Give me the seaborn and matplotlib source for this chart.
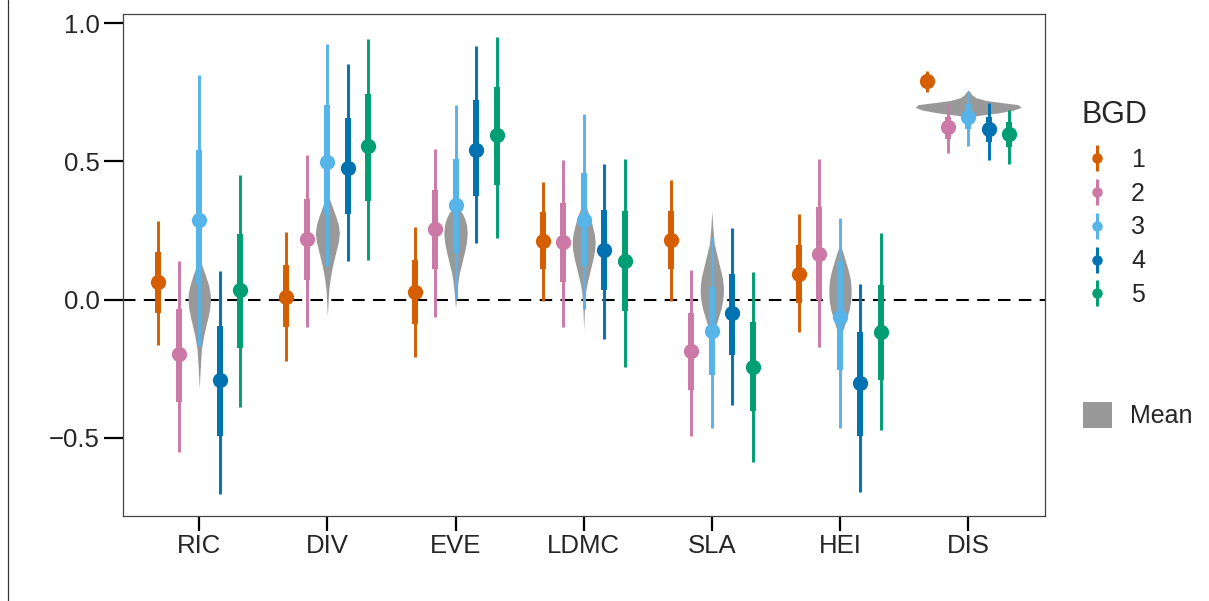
import numpy as np
import pandas as pd
import matplotlib
matplotlib.use("Agg")
import matplotlib.pyplot as plt
import seaborn as sns
from matplotlib.lines import Line2D
from matplotlib.patches import Patch
from matplotlib.legend_handler import HandlerTuple

# ---------------- data ----------------
traits = ["RIC", "DIV", "EVE", "LDMC", "SLA", "HEI", "DIS"]
bgd_levels = ["1", "2", "3", "4", "5"]

# rows = BGD 1..5, columns = traits
estimate = [
    [0.063, 0.011, 0.029, 0.211, 0.216, 0.091, 0.790],
    [-0.197, 0.220, 0.256, 0.208, -0.185, 0.166, 0.624],
    [0.286, 0.498, 0.341, 0.286, -0.112, -0.062, 0.661],
    [-0.291, 0.476, 0.542, 0.181, -0.050, -0.303, 0.618],
    [0.033, 0.554, 0.594, 0.139, -0.243, -0.118, 0.600],
]
lower66 = [
    [-0.050, -0.100, -0.088, 0.109, 0.111, -0.013, 0.775],
    [-0.372, 0.071, 0.111, 0.065, -0.327, 0.000, 0.582],
    [0.057, 0.310, 0.167, 0.123, -0.273, -0.255, 0.618],
    [-0.493, 0.308, 0.373, 0.033, -0.199, -0.493, 0.570],
    [-0.176, 0.355, 0.415, -0.043, -0.402, -0.290, 0.552],
]
upper66 = [
    [0.171, 0.126, 0.144, 0.316, 0.319, 0.196, 0.805],
    [-0.034, 0.365, 0.395, 0.349, -0.048, 0.334, 0.661],
    [0.540, 0.703, 0.510, 0.458, 0.045, 0.141, 0.709],
    [-0.094, 0.655, 0.721, 0.325, 0.093, -0.118, 0.661],
    [0.236, 0.745, 0.769, 0.319, -0.080, 0.051, 0.642],
]
lower95 = [
    [-0.164, -0.221, -0.209, -0.004, -0.004, -0.118, 0.750],
    [-0.553, -0.098, -0.062, -0.098, -0.493, -0.173, 0.530],
    [-0.167, 0.123, 0.003, -0.034, -0.463, -0.463, 0.554],
    [-0.702, 0.139, 0.204, -0.142, -0.380, -0.696, 0.504],
    [-0.388, 0.144, 0.223, -0.245, -0.586, -0.472, 0.492],
]
upper95 = [
    [0.284, 0.244, 0.262, 0.425, 0.434, 0.310, 0.825],
    [0.141, 0.522, 0.546, 0.506, 0.108, 0.510, 0.709],
    [0.812, 0.926, 0.703, 0.673, 0.228, 0.295, 0.751],
    [0.105, 0.851, 0.917, 0.489, 0.260, 0.057, 0.711],
    [0.449, 0.941, 0.950, 0.510, 0.099, 0.240, 0.685],
]

# "Mean" posterior shapes per trait: value levels and relative density
mean_values = {
    "RIC":  [0.15, 0.12, 0.09, 0.05, 0.02, 0.00, -0.03, -0.06, -0.09, -0.13, -0.18, -0.25, -0.32],
    "DIV":  [0.39, 0.36, 0.33, 0.30, 0.27, 0.24, 0.21, 0.18, 0.15, 0.12, 0.08, 0.04, 0.00, -0.06],
    "EVE":  [0.34, 0.325, 0.31, 0.29, 0.27, 0.24, 0.21, 0.18, 0.15, 0.12, 0.09, 0.05, 0.00, -0.03],
    "LDMC": [0.36, 0.33, 0.30, 0.27, 0.24, 0.21, 0.18, 0.15, 0.12, 0.09, 0.06, 0.03, -0.03, -0.11],
    "SLA":  [0.32, 0.26, 0.20, 0.17, 0.14, 0.11, 0.08, 0.05, 0.03, 0.00, -0.03, -0.06, -0.09, -0.12, -0.15],
    "HEI":  [0.20, 0.17, 0.14, 0.11, 0.08, 0.05, 0.02, -0.01, -0.04, -0.07, -0.10, -0.12, -0.14],
    "DIS":  [0.758, 0.75, 0.74, 0.73, 0.72, 0.712, 0.705, 0.695, 0.685, 0.675, 0.667, 0.660],
}
mean_density = {
    "RIC":  [0, 3, 6, 9.5, 11, 11.3, 10.5, 9, 7, 4.5, 2.2, 1, 0],
    "DIV":  [0, 2.5, 5.5, 8.5, 11, 12, 11, 9, 7, 5, 3, 1.5, 0.8, 0],
    "EVE":  [0, 4, 7, 9.5, 11, 11.7, 11, 9.5, 7.5, 5.5, 3.5, 2, 0.8, 0],
    "LDMC": [0, 3, 6, 8.5, 10.5, 11.5, 11, 9.5, 7.5, 5.5, 3.5, 2, 0.8, 0],
    "SLA":  [0, 1, 2.5, 4.5, 6.5, 8.5, 10.5, 11.5, 11.7, 11, 9.5, 7, 4.5, 2.5, 0],
    "HEI":  [0, 3, 5.5, 8, 10, 11, 11.2, 10.5, 9, 6.5, 4, 2, 0],
    "DIS":  [0, 2, 4, 8, 18, 35, 50, 53, 45, 30, 12, 0],
}

# ---------------- style ----------------
colors = ["#D55E00", "#CC79A7", "#56B4E9", "#0072B2", "#009E73"]
violin_color = "#999999"
sns.set_style("ticks")
plt.rcParams["font.family"] = ["Liberation Sans", "DejaVu Sans"]

W, H = 1209, 601
fig = plt.figure(figsize=(W / 100, H / 100), dpi=100)
ax = fig.add_axes([123 / W, 1 - 516 / H, (1045 - 123) / W, (516 - 14) / H])

# long-form table for seaborn
rows = []
for b, lvl in enumerate(bgd_levels):
    for t, tr in enumerate(traits):
        rows.append({"trait": tr, "BGD": lvl, "estimate": estimate[b][t]})
df = pd.DataFrame(rows)
df["trait"] = pd.Categorical(df["trait"], categories=traits, ordered=True)

# violins ("Mean")
px_per_unit = 128.17
for t, tr in enumerate(traits):
    yv = np.array(mean_values[tr])
    w = np.array(mean_density[tr]) / px_per_unit
    ax.fill_betweenx(yv, t - w, t + w, color=violin_color, lw=0, zorder=2)

# zero line
ax.axhline(0, color="black", lw=1.5, ls=(0, (6, 4)), zorder=1.5)

# intervals
dodge = 0.16
for b in range(len(bgd_levels)):
    xs = np.arange(len(traits)) + (b - 2) * dodge
    ax.vlines(xs, lower95[b], upper95[b], color=colors[b], lw=2.1, zorder=3)
    ax.vlines(xs, lower66[b], upper66[b], color=colors[b], lw=4.3, zorder=3)

# point estimates
sns.stripplot(data=df, x="trait", y="estimate", hue="BGD", hue_order=bgd_levels,
              order=traits, palette=colors, dodge=True, jitter=False, size=11,
              linewidth=0, legend=False, ax=ax, zorder=4)

ax.set_xlim(-0.595, 6.6)
ax.set_ylim(-0.783, 1.033)
ax.set_yticks([-0.5, 0.0, 0.5, 1.0])
ax.set_xlabel("")
ax.set_ylabel("")
for s in ax.spines.values():
    s.set_visible(True)
    s.set_color("#444444")
    s.set_linewidth(0.9)
ax.tick_params(axis="both", width=1.6, color="black", labelsize=18.5)
ax.tick_params(axis="y", length=14, pad=3)
ax.tick_params(axis="x", length=11, pad=2)

# legends
fig.text(1081 / W, 1 - 115 / H, "BGD", fontsize=22, ha="left", va="center")
bgd_handles = [
    (Line2D([], [], color=c, marker="|", markersize=19, mew=2.2, ls="None"),
     Line2D([], [], color=c, marker="o", markersize=6.5, ls="None"))
    for c in colors
]
leg1 = fig.legend(bgd_handles, bgd_levels, loc="upper left",
                  bbox_to_anchor=(1081 / W, 1 - 148 / H), frameon=False,
                  handler_map={tuple: HandlerTuple(ndivide=1)},
                  fontsize=18, labelspacing=0.39, borderpad=0, borderaxespad=0,
                  handlelength=1.3, handletextpad=0.7)
leg2 = fig.legend([Patch(facecolor=violin_color, edgecolor="none")], ["Mean"],
                  loc="upper left", bbox_to_anchor=(1083 / W, 1 - 402 / H),
                  frameon=False, fontsize=18, handlelength=1.15, handleheight=1.2,
                  handletextpad=0.75, borderpad=0, borderaxespad=0)

# thin vertical rule at the far left of the canvas
fig.add_artist(Line2D([8 / W, 8 / W], [0, 1], transform=fig.transFigure,
                      color="#333333", lw=0.9))

fig.savefig("out.png", dpi=100)
